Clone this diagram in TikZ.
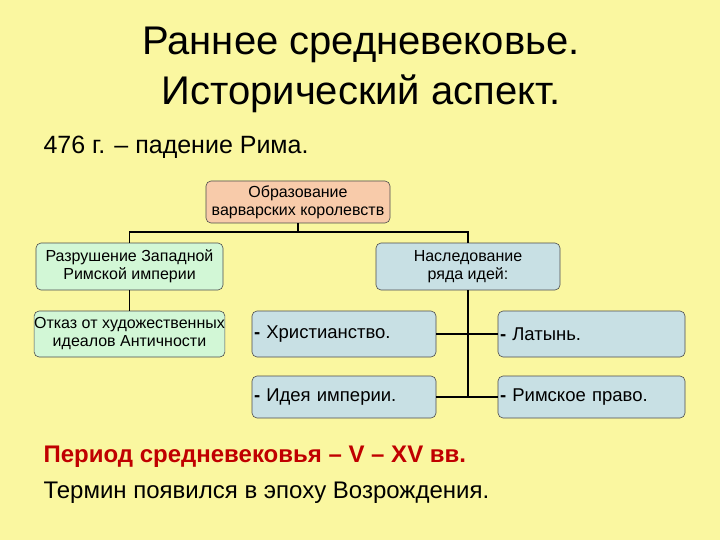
\documentclass[tikz,border=0pt]{standalone}
\usepackage{fontspec}
\setmainfont{Liberation Sans}
\begin{document}
\begin{tikzpicture}[x=1pt,y=-1pt,
  box/.style={draw=black!70,rounded corners=5pt,line width=0.6pt,align=center,font=\fontsize{16}{18}\selectfont,inner sep=0pt},
  item/.style={box,fill=blueb,align=left,font=\fontsize{18.5}{20}\selectfont},
  con/.style={line width=1.8pt}]
\definecolor{bg}{HTML}{FAF7A0}
\definecolor{orangeb}{HTML}{F8CBAA}
\definecolor{greenb}{HTML}{D2F7D6}
\definecolor{blueb}{HTML}{C8E0E4}
\definecolor{redt}{HTML}{C00000}
\fill[bg] (0,0) rectangle (720,540);
\useasboundingbox (0,0) rectangle (720,540);
\node[font=\fontsize{40}{50}\selectfont,align=center] (title) at (361,70) {Раннее средневековье.\\Исторический аспект.};
\node[font=\fontsize{25}{28}\selectfont,anchor=west] (t1) at (40,147) {476 г. – падение Рима.};
\node[box,fill=orangeb,minimum width=184,minimum height=42] (top) at (298,202) {Образование\\варварских королевств};
\node[box,fill=greenb,minimum width=187,minimum height=47] (l1) at (129.5,266.5) {Разрушение Западной\\Римской империи};
\node[box,fill=blueb,minimum width=184,minimum height=47] (r1) at (468,266.5) {Наследование\\ряда идей:};
\node[box,fill=greenb,minimum width=187,minimum height=46] (l2) at (129.5,334) {Отказ от художественных\\идеалов Античности};
\node[item,minimum width=184,minimum height=46,text width=180] (xr) at (344,334) {\textbf{-} Христианство.};
\node[item,minimum width=187,minimum height=46,text width=183] (lat) at (591.5,334) {\textbf{-} Латынь.};
\node[item,minimum width=184,minimum height=42,text width=180] (idea) at (344,397) {\textbf{-} Идея империи.};
\node[item,minimum width=187,minimum height=42,text width=183] (rim) at (591.5,397) {\textbf{-} Римское право.};
\coordinate (j) at (298,232);
\coordinate (jb) at (468,397);
\draw[con] (top.south) -- (j);
\draw[con] (l1.north) |- (j) -| (r1.north);
\draw[con] (l1) -- (l2);
\draw[con] (r1.south) -- (jb);
\draw[con] (xr.east) -- (lat.west);
\draw[con] (idea.east) -- (rim.west);
\node[font=\bfseries\fontsize{24}{26}\selectfont,text=redt,anchor=west] (t2) at (40,457) {Период средневековья – V – XV вв.};
\node[font=\fontsize{24}{26}\selectfont,anchor=west] (t3) at (40,493) {Термин появился в эпоху Возрождения.};
\end{tikzpicture}
\end{document}
